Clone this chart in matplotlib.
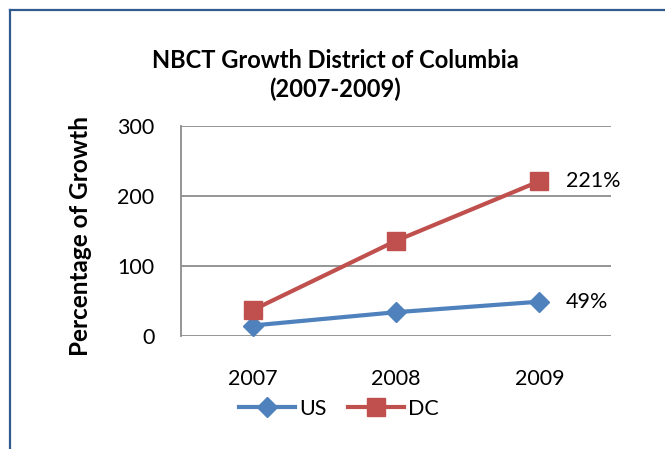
import matplotlib
matplotlib.use("Agg")
import matplotlib.pyplot as plt
from matplotlib.lines import Line2D

years = ["2007", "2008", "2009"]
us = [15, 34, 49]
dc = [37, 136, 221]
end_labels = ["49%", "221%"]
yticks = [0, 100, 200, 300]

W, H = 665, 449
fig = plt.figure(figsize=(W / 100, H / 100), dpi=100)
plt.rcParams['font.family'] = ['Lato', 'DejaVu Sans']

left, right, top, bottom = 181, 611, 126, 336
ax = fig.add_axes([left / W, 1 - bottom / H, (right - left) / W, (bottom - top) / H])

blue = "#4f81bd"
red = "#c0504d"
grid = "#8c8c8c"

x = list(range(len(years)))
ax.plot(x, us, color=blue, lw=3, marker="D", ms=10, label="US", zorder=3)
ax.plot(x, dc, color=red, lw=3, marker="s", ms=13, label="DC", zorder=3)

ax.set_xlim(-0.5, 2.5)
ax.set_ylim(0, 300)
ax.set_yticks(yticks)
ax.set_xticks(x)
ax.set_xticklabels(years)
ax.yaxis.grid(True, color=grid, lw=1.3)
ax.set_axisbelow(True)
for s in ["top", "right", "bottom"]:
    ax.spines[s].set_visible(False)
ax.spines["left"].set_color(grid)
ax.spines["left"].set_linewidth(1.3)
ax.tick_params(axis="both", length=0, labelsize=15.5)
ax.tick_params(axis="y", pad=19)
ax.tick_params(axis="x", pad=24)

ax.annotate(end_labels[1], (x[2], dc[2]), xytext=(19, 0), textcoords="offset points",
            va="center", ha="left", fontsize=15.5)
ax.annotate(end_labels[0], (x[2], us[2]), xytext=(19, 0), textcoords="offset points",
            va="center", ha="left", fontsize=15.5)

fig.text(335 / W, 1 - 60 / H, "NBCT Growth District of Columbia", ha="center", va="center",
         fontsize=17, fontweight="bold")
fig.text(335 / W, 1 - 89 / H, "(2007-2009)", ha="center", va="center",
         fontsize=17, fontweight="bold")
fig.text(80 / W, 1 - 236 / H, "Percentage of Growth", rotation=90, ha="center", va="center",
         fontsize=17.5, fontweight="bold")

leg = fig.legend(loc="center", bbox_to_anchor=(339 / W, 1 - 409 / H), ncol=2, frameon=False,
                 fontsize=15.5, handlelength=2.6, handletextpad=0.2, columnspacing=1.0)

frame_c = "#2f5b8e"
fig.add_artist(Line2D([9.5 / W, 9.5 / W], [0, 1 - 10 / H], color=frame_c, lw=1.6,
                      transform=fig.transFigure))
fig.add_artist(Line2D([9.5 / W, 1], [1 - 10 / H, 1 - 10 / H], color=frame_c, lw=1.6,
                      transform=fig.transFigure))

fig.savefig("out.png", dpi=100)
